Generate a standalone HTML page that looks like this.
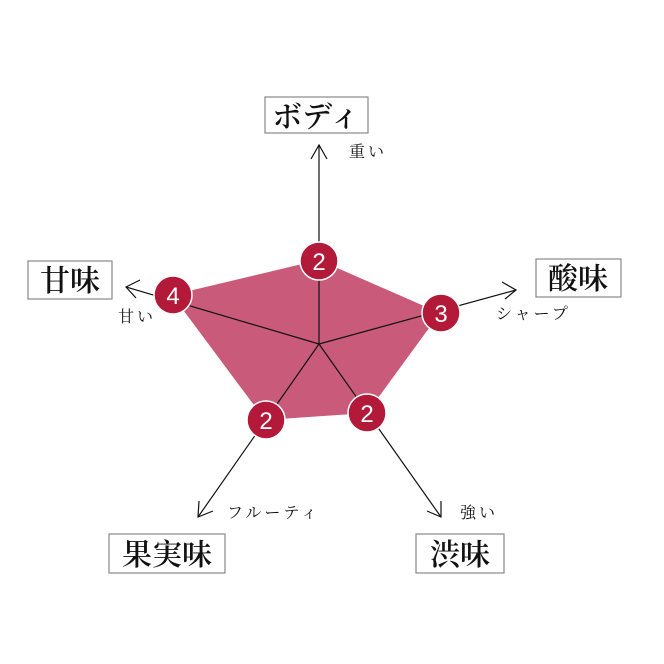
<!DOCTYPE html>
<html><head><meta charset="utf-8"><style>
html,body{margin:0;padding:0;background:#fff}
svg{display:block}
text{font-family:"Liberation Serif","Noto Serif CJK SC",serif;fill:#111}
.b{font-size:30px;font-weight:600}
.s{font-size:16px;letter-spacing:3px}
.n{font-family:"Liberation Sans",sans-serif;font-size:24px;fill:#fff}
</style></head><body>
<svg width="664" height="664" viewBox="0 0 664 664">
<polygon points="319,260 440,313 367,413 265,420 172,295" fill="#c95a79"/>
<g stroke="#111" stroke-width="1.2" fill="none">
<line x1="319" y1="344" x2="319" y2="145"/>
<polyline points="311,159 319,145 327,159"/>
<line x1="319" y1="344" x2="516" y2="290"/>
<polyline points="502,282 516,290 505,299"/>
<line x1="319" y1="344" x2="126" y2="287"/>
<polyline points="140,280 126,287 136,298"/>
<line x1="319" y1="344" x2="198" y2="517"/>
<polyline points="199,501 198,517 213,511"/>
<line x1="319" y1="344" x2="441" y2="517"/>
<polyline points="427,511 441,517 441,501"/>
</g>
<g fill="#b31a3a" stroke="#fff" stroke-width="1.5">
<circle cx="319" cy="261" r="19"/>
<circle cx="441" cy="313" r="19"/>
<circle cx="367" cy="413" r="19"/>
<circle cx="266" cy="420" r="19"/>
<circle cx="173" cy="295" r="19"/>
</g>
<g text-anchor="middle">
<text class="n" x="319" y="270">2</text>
<text class="n" x="441" y="322">3</text>
<text class="n" x="367" y="422">2</text>
<text class="n" x="266" y="429">2</text>
<text class="n" x="173" y="304">4</text>
</g>
<g fill="#fff" stroke="#888" stroke-width="1.2">
<rect x="265" y="97" width="103" height="36"/>
<rect x="28" y="261" width="84" height="38"/>
<rect x="536" y="259" width="85" height="38"/>
<rect x="109" y="534" width="116" height="39"/>
<rect x="416" y="534" width="88" height="39"/>
</g>
<g text-anchor="middle">
<text class="b" x="316" y="127">ボディ</text>
<text class="b" x="70" y="291">甘味</text>
<text class="b" x="578" y="289">酸味</text>
<text class="b" x="167" y="565">果実味</text>
<text class="b" x="460" y="565">渋味</text>
</g>
<text class="s" x="349" y="157">重い</text>
<text class="s" x="118" y="322">甘い</text>
<text class="s" x="496" y="319">シャープ</text>
<text class="s" x="227" y="518">フルーティ</text>
<text class="s" x="460" y="518">強い</text>
</svg>
</body></html>
